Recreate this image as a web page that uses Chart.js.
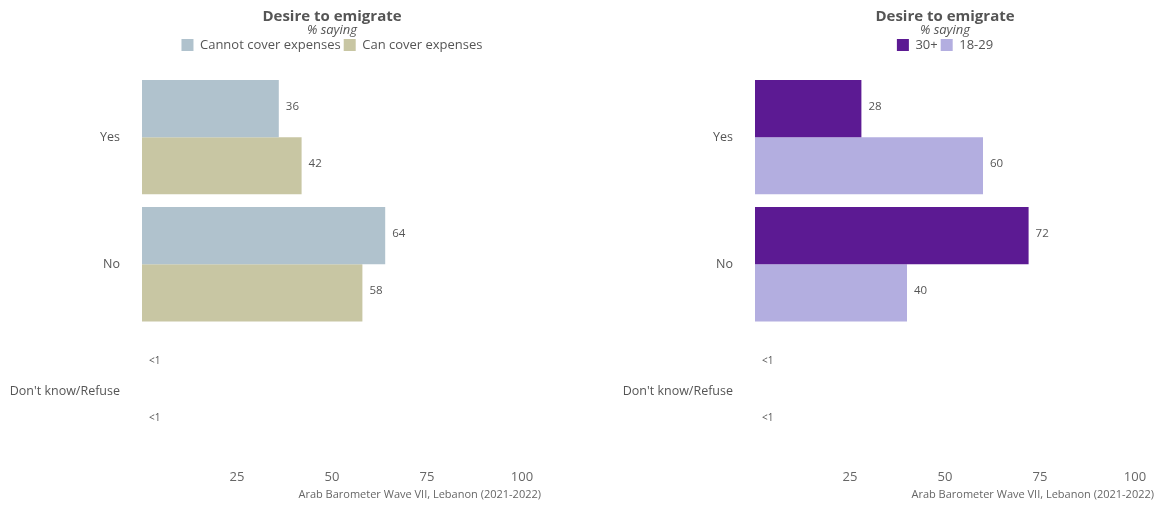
<!DOCTYPE html>
<html>
<head>
<meta charset="utf-8">
<script src="https://cdn.jsdelivr.net/npm/chart.js@4.4.1/dist/chart.umd.min.js"></script>
<style>
  html, body { margin: 0; padding: 0; background: #ffffff; }
  body { width: 1158px; height: 506px; position: relative; overflow: hidden; }
  .panel { position: absolute; top: 0; width: 545px; height: 506px; }
  #p1 { left: 0; }
  #p2 { left: 613px; }
</style>
</head>
<body>
<div class="panel" id="p1"><canvas id="c1"></canvas></div>
<div class="panel" id="p2"><canvas id="c2"></canvas></div>
<script>
// ---- data ----
const categories = ["Yes", "No", "Don't know/Refuse"];
const xTicks = [25, 50, 75, 100];

const leftSeriesNames = ["Cannot cover expenses", "Can cover expenses"];
const cannotCover = [36, 64, 0];
const canCover = [42, 58, 0];

const rightSeriesNames = ["30+", "18-29"];
const age30plus = [28, 72, 0];
const age18to29 = [60, 40, 0];

const chartTitle = "Desire to emigrate";
const chartSubtitle = "% saying";
const caption = "Arab Barometer Wave VII, Lebanon (2021-2022)";

// ---- styling ----
const FONT = "'Open Sans', 'DejaVu Sans', sans-serif";
const TEXT = "#555555";

function fmt(v) { return v < 1 ? "<1" : String(Math.round(v)); }

const labelPlugin = {
  id: 'barLabels',
  afterDatasetsDraw(chart) {
    const ctx = chart.ctx;
    ctx.save();
    ctx.fillStyle = TEXT;
    ctx.textAlign = 'left';
    ctx.textBaseline = 'middle';
    chart.data.datasets.forEach((ds, di) => {
      const meta = chart.getDatasetMeta(di);
      meta.data.forEach((el, i) => {
        const txt = fmt(ds.data[i]);
        ctx.font = (txt === "<1" ? "10px " : "11.5px ") + FONT;
        ctx.fillText(txt, el.x + 7, el.y - 2);
      });
    });
    ctx.restore();
  }
};

const captionPlugin = {
  id: 'caption',
  afterDraw(chart) {
    const ctx = chart.ctx;
    ctx.save();
    ctx.fillStyle = "#666666";
    ctx.font = "11px " + FONT;
    ctx.textAlign = 'right';
    ctx.textBaseline = 'middle';
    ctx.fillText(caption, chart.width - 4, 495);
    ctx.restore();
  }
};

const legendSpacer = {
  id: 'legendSpacer',
  beforeInit(chart) {
    const origFit = chart.legend.fit;
    chart.legend.fit = function () {
      origFit.bind(chart.legend)();
      this.height += 12;
    };
  }
};

function makeChart(id, names, s1, s2, c1, c2) {
  return new Chart(document.getElementById(id), {
    type: 'bar',
    data: {
      labels: categories,
      datasets: [
        { label: names[0], data: s1, backgroundColor: c1, borderWidth: 0 },
        { label: names[1], data: s2, backgroundColor: c2, borderWidth: 0 }
      ]
    },
    options: {
      indexAxis: 'y',
      responsive: true,
      maintainAspectRatio: false,
      animation: false,
      devicePixelRatio: 1,
      layout: { padding: { left: 0, right: 23, top: 0, bottom: 20 } },
      datasets: { bar: { categoryPercentage: 0.9, barPercentage: 1.0 } },
      scales: {
        x: {
          min: 0, max: 100,
          afterBuildTicks(axis) { axis.ticks = xTicks.map(v => ({ value: v })); },
          afterFit(axis) { axis.paddingRight = 0; axis.paddingLeft = 0; axis.height = 31; },
          grid: { display: false, drawTicks: false },
          border: { display: false },
          ticks: { color: "#666666", font: { family: FONT, size: 13 }, padding: 14 }
        },
        y: {
          afterFit(axis) { axis.width = 142; },
          grid: { display: false, drawTicks: false },
          border: { display: false },
          ticks: { color: TEXT, font: { family: FONT, size: 12.5 }, padding: 22 }
        }
      },
      plugins: {
        tooltip: { enabled: false },
        title: {
          display: true, text: chartTitle, fullSize: false,
          color: TEXT, font: { family: FONT, size: 15, weight: 'bold', lineHeight: 1.1 },
          padding: { top: 8, bottom: 0 }
        },
        subtitle: {
          display: true, text: chartSubtitle, fullSize: false,
          color: TEXT, font: { family: FONT, size: 13, style: 'italic', lineHeight: 0.85 },
          padding: { top: 0, bottom: 0 }
        },
        legend: {
          display: true, position: 'top', fullSize: false,
          labels: {
            color: TEXT, font: { family: FONT, size: 13 },
            boxWidth: 12, boxHeight: 12, padding: 3
          }
        }
      }
    },
    plugins: [labelPlugin, captionPlugin, legendSpacer]
  });
}

makeChart('c1', leftSeriesNames, cannotCover, canCover, '#b0c2cd', '#c8c6a3');
makeChart('c2', rightSeriesNames, age30plus, age18to29, '#5c1a93', '#b3aee0');
</script>
</body>
</html>
